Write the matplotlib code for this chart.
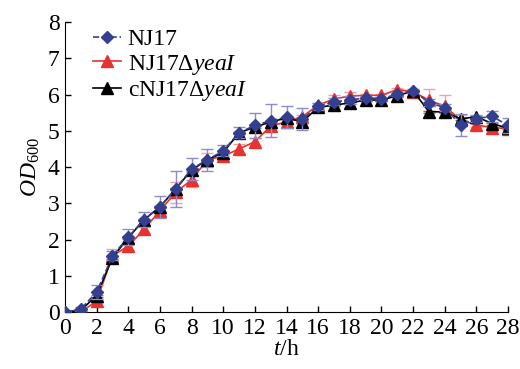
import matplotlib.pyplot as plt
import numpy as np

plt.rcParams['font.family'] = ['Liberation Serif', 'DejaVu Serif']
plt.rcParams['mathtext.fontset'] = 'custom'
plt.rcParams['mathtext.rm'] = 'Liberation Serif'
plt.rcParams['mathtext.it'] = 'Liberation Serif:italic'

hours = list(range(0, 29))

nj17 = [0.0, 0.08, 0.55, 1.55, 2.07, 2.55, 2.9, 3.4, 3.95, 4.2, 4.45, 4.95, 5.15, 5.28,
        5.38, 5.32, 5.68, 5.8, 5.85, 5.91, 5.89, 6.01, 6.11, 5.78, 5.64, 5.16, 5.34, 5.4, 5.15]
nj17_err = [0.03, 0.05, 0.2, 0.12, 0.22, 0.2, 0.3, 0.5, 0.3, 0.3, 0.15, 0.15, 0.35, 0.45,
            0.3, 0.3, 0.1, 0.1, 0.12, 0.05, 0.05, 0.05, 0.05, 0.1, 0.1, 0.3, 0.1, 0.15, 0.2]

mutant = [0.0, 0.0, 0.3, 1.55, 1.82, 2.28, 2.8, 3.3, 3.65, 4.2, 4.3, 4.5, 4.7, 5.13,
          5.25, 5.39, 5.71, 5.88, 5.96, 5.98, 5.98, 6.14, 6.08, 5.85, 5.68, 5.3, 5.16, 5.09, 5.06]
mutant_err = [0.03, 0.03, 0.05, 0.2, 0.1, 0.1, 0.1, 0.3, 0.2, 0.2, 0.1, 0.15, 0.1, 0.05,
              0.05, 0.05, 0.05, 0.1, 0.1, 0.05, 0.05, 0.05, 0.05, 0.3, 0.3, 0.15, 0.05, 0.05, 0.05]

comp = [0.0, 0.05, 0.45, 1.5, 2.05, 2.55, 2.9, 3.4, 3.92, 4.2, 4.4, 4.95, 5.1, 5.25,
        5.35, 5.25, 5.65, 5.71, 5.77, 5.85, 5.85, 5.97, 6.1, 5.53, 5.52, 5.33, 5.39, 5.2, 5.07]
comp_err = [0.03] * 29

fig = plt.figure(figsize=(5.2, 3.69), dpi=100)
ax = fig.add_axes([0.125, 0.1545, 0.852, 0.7855])

red = '#e8322f'
blue = '#34408f'

e_mut = ax.errorbar(hours, mutant, yerr=mutant_err, color=red, marker='^', markersize=8,
                    linewidth=1.2, ecolor='#f4a0a0', elinewidth=1, capsize=4, capthick=1,
                    zorder=2)
e_comp = ax.errorbar(hours, comp, yerr=comp_err, color='black', marker='^', markersize=8,
                     linewidth=1.2, ecolor='#777777', elinewidth=1, capsize=4, capthick=1,
                     zorder=3)
e_wt = ax.errorbar(hours, nj17, yerr=nj17_err, color=blue, marker='D', markersize=6,
                   linewidth=1.2, linestyle='--', ecolor='#8c8cc8', elinewidth=1, capsize=4,
                   capthick=1, zorder=4)

ax.set_xlim(0, 28)
ax.set_ylim(0, 8)
ax.set_xticks(range(0, 29, 2))
ax.set_yticks(range(0, 9))
ax.tick_params(direction='in', length=4, labelsize=17, width=1, pad=4)
ax.spines['top'].set_visible(False)
ax.spines['right'].set_visible(False)

ax.set_xlabel(r'$\it{t}$/h', fontsize=17, labelpad=0)
ax.set_ylabel(r'$\it{OD}_{600}$', fontsize=17, labelpad=4)

ax.legend([e_wt[0], e_mut[0], e_comp[0]],
          ['NJ17', r'NJ17$\Delta$$\it{yeaI}$', r'cNJ17$\Delta$$\it{yeaI}$'],
          loc='upper left', bbox_to_anchor=(0.043, 1.01), frameon=False, fontsize=17,
          handlelength=1.15, handletextpad=0.3, labelspacing=0.1, borderaxespad=0)

fig.savefig('out.png', dpi=100)
